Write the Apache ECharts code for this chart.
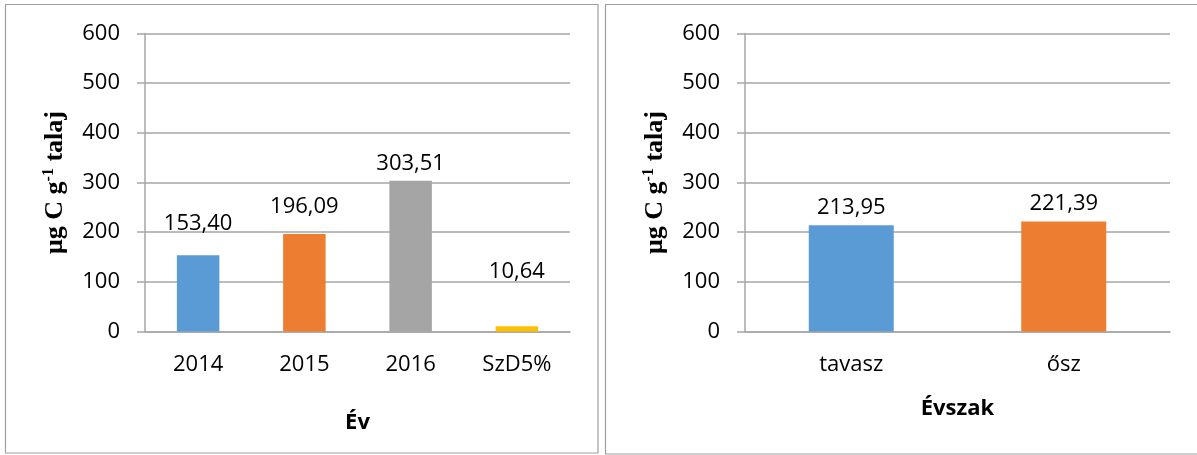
<!DOCTYPE html>
<html>
<head>
<meta charset="utf-8">
<script src="https://cdn.jsdelivr.net/npm/echarts@6/dist/echarts.min.js"></script>
<style>
  html, body { margin: 0; padding: 0; background: #fff; }
  #chart { width: 1197px; height: 455px; }
</style>
</head>
<body>
<div id="chart"></div>
<script>
// ---- data ----
const leftCategories = ['2014', '2015', '2016', 'SzD5%'];
const leftValues = [153.40, 196.09, 303.51, 10.64];
const rightCategories = ['tavasz', 'ősz'];
const rightValues = [213.95, 221.39];
const yMin = 0, yMax = 600, yStep = 100;
const yTitle = 'μg C g-1 talaj';
const leftXTitle = 'Év';
const rightXTitle = 'Évszak';

// ---- styles ----
const palette = ['#5B9BD5', '#ED7D31', '#A5A5A5', '#FFC000'];
const leftLabelGap = [21, 16, 6, 43];
const rightLabelGap = [7, 7];
const gridColor = '#a6a6a6';
const sansFont = '"Open Sans", "Noto Sans", sans-serif';

const fmt = v => v.toFixed(2).replace('.', ',');

function yAxisFor(gridIndex) {
  return {
    type: 'value', gridIndex, min: yMin, max: yMax, interval: yStep,
    axisLine: { show: true, lineStyle: { color: gridColor, width: 1.5 } },
    axisTick: { show: true, inside: false, length: 8, lineStyle: { color: gridColor, width: 1.5 } },
    splitLine: { show: true, lineStyle: { color: gridColor, width: 1.5 } },
    axisLabel: { margin: 25, fontFamily: sansFont, fontSize: 22, color: '#000' },
    name: '{b|μg C g}{s|-1}{b| talaj}',
    nameLocation: 'middle', nameRotate: 90, nameGap: 76,
    nameTextStyle: {
      rich: {
        b: { fontFamily: '"Liberation Serif", "DejaVu Serif", serif', fontWeight: 'bold', fontSize: 26, color: '#000', lineHeight: 28 },
        s: { fontFamily: '"Liberation Serif", "DejaVu Serif", serif', fontWeight: 'bold', fontSize: 16, color: '#000', verticalAlign: 'top', lineHeight: 28, padding: [0, 0, 10, 0] }
      }
    }
  };
}

function xAxisFor(gridIndex, cats, title, gap) {
  return {
    type: 'category', gridIndex, data: cats,
    axisLine: { show: true, lineStyle: { color: gridColor, width: 1.5 } },
    axisTick: { show: false },
    axisLabel: { margin: 22, fontFamily: sansFont, fontSize: 22, color: '#000' },
    name: title, nameLocation: 'middle', nameGap: gap,
    nameTextStyle: { fontFamily: sansFont, fontSize: 22, fontWeight: 'bold', color: '#000' }
  };
}

function barSeries(idx, values, gaps, colors) {
  return {
    type: 'bar', xAxisIndex: idx, yAxisIndex: idx, barWidth: '40%',
    data: values.map((v, i) => ({
      value: v,
      itemStyle: { color: colors[i] },
      label: { distance: gaps[i] }
    })),
    label: {
      show: true, position: 'top',
      formatter: p => fmt(p.value),
      fontFamily: sansFont, fontSize: 22, color: '#000'
    }
  };
}

const chart = echarts.init(document.getElementById('chart'), null, { renderer: 'canvas' });
chart.setOption({
  animation: false,
  backgroundColor: '#fff',
  grid: [
    { left: 145, right: 627, top: 33.5, bottom: 123.5 },
    { left: 745, right: 27, top: 33.5, bottom: 123.5 }
  ],
  xAxis: [
    xAxisFor(0, leftCategories, leftXTitle, 80),
    xAxisFor(1, rightCategories, rightXTitle, 66)
  ],
  yAxis: [yAxisFor(0), yAxisFor(1)],
  series: [
    barSeries(0, leftValues, leftLabelGap, palette),
    barSeries(1, rightValues, rightLabelGap, palette)
  ],
  graphic: [
    { type: 'rect', silent: true, z: -1, shape: { x: 5.5, y: 4.5, width: 592.5, height: 448.5 }, style: { fill: null, stroke: '#a0a0a0', lineWidth: 1.2 } },
    { type: 'rect', silent: true, z: -1, shape: { x: 605.5, y: 4.5, width: 600, height: 449.5 }, style: { fill: null, stroke: '#a0a0a0', lineWidth: 1.2 } }
  ]
});
</script>
</body>
</html>
